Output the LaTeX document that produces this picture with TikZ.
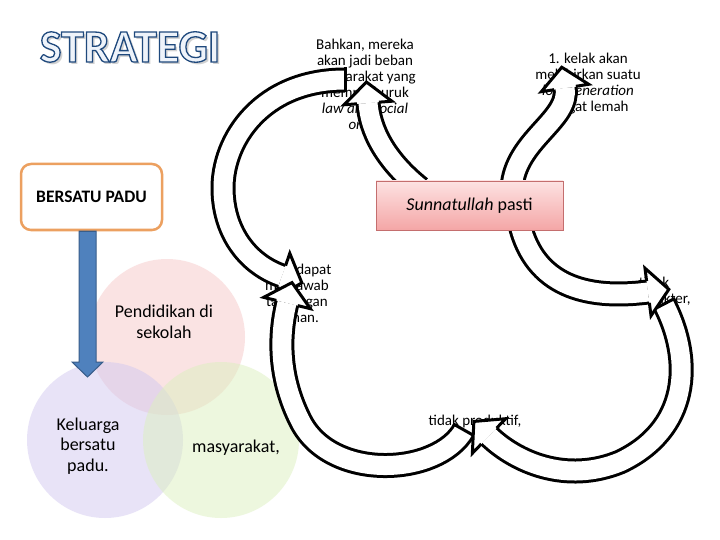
\documentclass[tikz,border=0pt]{standalone}
\usepackage{fontspec}
\setmainfont{Carlito}
\usetikzlibrary{calc}
\definecolor{stBlue}{RGB}{79,129,189}
\definecolor{stBlueDark}{RGB}{56,93,138}
\definecolor{stOrange}{RGB}{236,160,96}
\definecolor{stPink}{RGB}{247,200,200}
\definecolor{stLav}{RGB}{210,200,240}
\definecolor{stGreen}{RGB}{220,240,190}
\definecolor{stRose}{RGB}{196,110,110}
\definecolor{stRoseTop}{RGB}{253,226,226}
\definecolor{stRoseBot}{RGB}{244,166,166}
\definecolor{stNavy}{RGB}{31,73,125}
\definecolor{stIce}{RGB}{238,243,250}
% outlined letters: fill in the text colour, stroke in navy
\newcommand{\outlinetext}[1]{%
  \special{pdf:literal direct 0.122 0.286 0.490 RG 1.3 w 2 Tr}#1%
  \special{pdf:literal direct 0 Tr}}
% head of a curved block arrow: #1 = end point, #2 = last control point
\newcommand{\bandhead}[2]{%
  \fill[white] ($(#1)!24pt!90:(#2)$) -- ($(#1)!-21pt!(#2)$) -- ($(#1)!24pt!-90:(#2)$) -- cycle;
  \draw[line width=3pt, line join=miter]
    ($(#1)!11pt!90:(#2)$) -- ($(#1)!24pt!90:(#2)$) -- ($(#1)!-21pt!(#2)$)
    -- ($(#1)!24pt!-90:(#2)$) -- ($(#1)!11pt!-90:(#2)$);}
% closed tail: #1 = start point, #2 = first control point
\newcommand{\bandtail}[2]{%
  \draw[line width=3pt] ($(#1)!12.5pt!90:(#2)$) -- ($(#1)!12.5pt!-90:(#2)$);}

\begin{document}
\begin{tikzpicture}[
    x=1pt, y=-1pt,
    title/.style={font=\fontsize{46}{46}\selectfont\bfseries, inner sep=0pt},
    note/.style={font=\fontsize{15}{16}\selectfont, align=center, inner sep=0pt},
    venn/.style={font=\fontsize{18}{20.5}\selectfont, align=center, inner sep=0pt},
    blob/.style={circle, minimum size=156pt, inner sep=0pt, fill opacity=0.5},
    band/.style={line width=3pt, double=white, double distance=19pt}
]
\useasboundingbox[fill=white] (0,0) rectangle (720,540);

% title
\node[title, text=black!18] (ttlshadow) at (132.5,49.5) {STRATEGI};
\node[title, text=stIce] (ttl) at (130,47) {\outlinetext{STRATEGI}};

% left side
\node[draw=stOrange, line width=2.5pt, rounded corners=10pt, fill=white,
      minimum width=141pt, minimum height=66pt,
      font=\fontsize{17.5}{17.5}\selectfont\bfseries] (bersatu) at (91.5,197) {BERSATU PADU};

\node[blob, fill=stPink] (sekolah) at (167,337) {};
\node[blob, fill=stLav] (keluarga) at (105,440) {};
\node[blob, fill=stGreen] (masy) at (221,440) {};
\node[venn] (tsekolah) at (164,322) {Pendidikan di\\sekolah};
\node[venn] (tkeluarga) at (88,446) {Keluarga\\bersatu\\padu.};
\node[venn] (tmasy) at (236,448) {masyarakat,};

\draw[fill=stBlue, draw=stBlueDark, line width=1pt]
  (bersatu.south -| 79,0) -- (79,362) -- (72,362) -- (87.5,377) -- (103,362)
  -- (96,362) -- (bersatu.south -| 96,0) -- cycle;

% consequence texts (partly hidden by the bands)
\node[note] (bahkan) at (365,84) {Bahkan, mereka\\akan jadi beban\\masyarakat yang\\memperburuk\\\textit{law and social}\\\textit{order}};
\node[note] (kelak) at (588,84) {1. kelak akan\\melahirkan suatu\\\textit{lost generation}\\sangat lemah};
\node[note] (zaman) at (297,293) {tidak dapat\\menjawab\\tantangan\\zaman.};
\node[note] (karakter) at (654,291) {tidak\\berkarakter,};
\node[note] (produktif) at (475,421) {tidak produktif,};

% curved block arrows
\coordinate (cS) at (345,80);   \coordinate (cA) at (262,80);
\coordinate (cK) at (250,265);  \coordinate (cE) at (282,276);
\draw[band] (cS) .. controls (cA) and (222,140) .. (223,190)
  .. controls (224,235) and (cK) .. (cE);
\bandtail{cS}{cA} \bandhead{cE}{cK}

\coordinate (uS) at (464,430);  \coordinate (uA) at (438,476);
\coordinate (uK) at (278,340);  \coordinate (uE) at (287,303);
\draw[band] (uS) .. controls (uA) and (330,482) .. (300,420)
  .. controls (280,380) and (uK) .. (uE);
\bandtail{uS}{uA} \bandhead{uE}{uK}

\coordinate (rS) at (664,304);  \coordinate (rA) at (694,362);
\coordinate (rK) at (516,462);  \coordinate (rE) at (489,436);
\draw[band] (rS) .. controls (rA) and (688,430) .. (620,462)
  .. controls (566,484) and (rK) .. (rE);
\bandtail{rS}{rA} \bandhead{rE}{rK}

\coordinate (kS) at (520,225);  \coordinate (kK) at (585,300);
\coordinate (kE) at (648,292);
\draw[band] (kS) .. controls (535,285) and (kK) .. (kE);
\bandhead{kE}{kK}

\coordinate (bS) at (420,188);  \coordinate (bK) at (370,130);
\coordinate (bE) at (368,103);
\draw[band] (bS) .. controls (385,160) and (bK) .. (bE);
\bandhead{bE}{bK}

\coordinate (lS) at (512,188);  \coordinate (lK) at (570,120);
\coordinate (lE) at (565,88);
\draw[band] (lS) .. controls (515,140) and (lK) .. (lE);
\bandhead{lE}{lK}

\node[draw=stRose, top color=stRoseTop, bottom color=stRoseBot,
      minimum width=187pt, minimum height=49pt,
      font=\fontsize{18}{18}\selectfont] (sunna) at (469.5,205.5) {\textit{Sunnatullah} pasti};
\end{tikzpicture}
\end{document}
